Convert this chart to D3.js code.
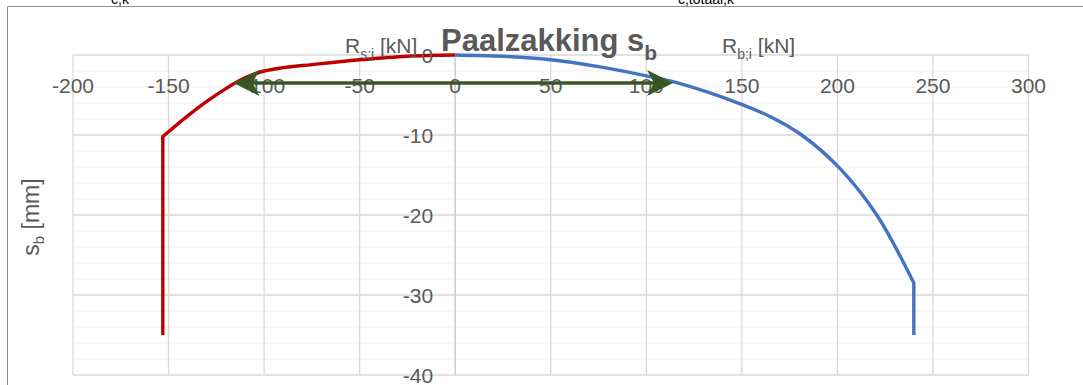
<!DOCTYPE html>
<html>
<head>
<meta charset="utf-8">
<script src="https://cdn.jsdelivr.net/npm/d3@7"></script>
<style>
  html, body { margin: 0; padding: 0; background: #ffffff; overflow: hidden; }
  svg { display: block; }
  text { font-family: "Liberation Sans", Arial, sans-serif; }
</style>
</head>
<body>
<svg id="chart" width="1083" height="385"></svg>
<script>
// Axis ticks
const xTicks = [-200, -150, -100, -50, 0, 50, 100, 150, 200, 250, 300];
const yTicks = [0, -10, -20, -30, -40];
const yMinorStep = 2;

// Shaft resistance R_s;i [kN] against settlement s_b [mm]
const shaftR = [0, -25, -50, -75, -92, -100, -106, -112.6, -120, -130, -140, -153, -153];
const shaftS = [0, -0.15, -0.6, -1.2, -1.65, -2.0, -2.45, -3.15, -4.2, -5.8, -7.6, -10.2, -35];

// Base resistance R_b;i [kN] against settlement s_b [mm]
const baseR = [0, 25, 50, 75, 100, 115.9, 149.2, 166.5, 181.3, 201.4, 220.6, 240, 240];
const baseS = [0, -0.16, -0.6, -1.45, -2.6, -3.45, -6.1, -7.9, -10, -14.2, -20, -28.5, -35];

// Double arrow spanning both resistances
const arrowS = -3.5;
const arrowFrom = -116;
const arrowTo = 114;

const svg = d3.select("#chart");
const W = 1083, H = 385;

const x = d3.scaleLinear().domain([-200, 300]).range([73, 1028.5]);
const y = d3.scaleLinear().domain([-40, 0]).range([375, 55]);

const grey = "#595959";

// chart frame
svg.append("line").attr("x1", 7.5).attr("y1", 6.5).attr("x2", W).attr("y2", 6.5)
  .attr("stroke", "#8c8c8c").attr("stroke-width", 1);
svg.append("line").attr("x1", 7.5).attr("y1", 6.5).attr("x2", 7.5).attr("y2", H)
  .attr("stroke", "#8c8c8c").attr("stroke-width", 1);

// partially visible cell text above the chart
svg.append("text").attr("x", 120).attr("y", 3.5).attr("text-anchor", "middle")
  .attr("font-size", 14).attr("fill", "#000").text("c,k");
svg.append("text").attr("x", 706).attr("y", 3.5).attr("text-anchor", "middle")
  .attr("font-size", 14).attr("fill", "#000").text("c,totaal,k");

// minor horizontal gridlines
const minorY = d3.range(0, -40 - 0.001, -yMinorStep).filter(v => v % 10 !== 0);
svg.append("g").selectAll("line").data(minorY).join("line")
  .attr("x1", x(-200)).attr("x2", x(300))
  .attr("y1", d => y(d)).attr("y2", d => y(d))
  .attr("stroke", "#f0f0f0").attr("stroke-width", 1.2);

// major gridlines
svg.append("g").selectAll("line").data(yTicks).join("line")
  .attr("x1", x(-200)).attr("x2", x(300))
  .attr("y1", d => y(d)).attr("y2", d => y(d))
  .attr("stroke", "#d9d9d9").attr("stroke-width", 1.3);
svg.append("g").selectAll("line").data(xTicks).join("line")
  .attr("x1", d => x(d)).attr("x2", d => x(d))
  .attr("y1", y(0)).attr("y2", y(-40))
  .attr("stroke", "#d9d9d9").attr("stroke-width", 1.3);

// vertical axis at R = 0
svg.append("line").attr("x1", x(0)).attr("x2", x(0)).attr("y1", y(0)).attr("y2", y(-40))
  .attr("stroke", "#cfcfcf").attr("stroke-width", 1.4);

// curves: smooth part up to the kink, then a straight vertical tail
function drawSeries(rs, ss, color) {
  const pts = rs.map((r, i) => [x(r), y(ss[i])]);
  const curvePts = pts.slice(0, pts.length - 1);
  const tail = pts[pts.length - 1];
  const gen = d3.line().curve(d3.curveCatmullRom.alpha(0.5));
  const d = gen(curvePts) + "L" + tail[0] + "," + tail[1];
  svg.append("path").attr("d", d).attr("fill", "none")
    .attr("stroke", color).attr("stroke-width", 3.4)
    .attr("stroke-linejoin", "miter");
}
drawSeries(shaftR, shaftS, "#c00000");
drawSeries(baseR, baseS, "#4472c4");

// tick labels on the horizontal axis
svg.append("g").selectAll("text").data(xTicks).join("text")
  .attr("x", d => x(d)).attr("y", 93)
  .attr("text-anchor", "middle").attr("font-size", 21).attr("fill", grey)
  .text(d => d);

// tick labels on the vertical axis
svg.append("g").selectAll("text").data(yTicks).join("text")
  .attr("x", x(0) - 22).attr("y", d => y(d) + 7.5)
  .attr("text-anchor", "end").attr("font-size", 21).attr("fill", grey)
  .text(d => d);

// double arrow
(function () {
  const ay = y(arrowS);
  const xl = x(arrowFrom), xr = x(arrowTo);
  const len = 26, half = 13, notch = 7;
  const green = "#375623";
  svg.append("line").attr("x1", xl + notch + 2).attr("x2", xr - notch - 2)
    .attr("y1", ay).attr("y2", ay).attr("stroke", green).attr("stroke-width", 3.5);
  const head = (tipX, dir) => {
    const p = d3.path();
    p.moveTo(tipX, ay);
    p.lineTo(tipX - dir * len, ay - half);
    p.lineTo(tipX - dir * (len - notch), ay);
    p.lineTo(tipX - dir * len, ay + half);
    p.closePath();
    return p.toString();
  };
  svg.append("path").attr("d", head(xl, -1)).attr("fill", green);
  svg.append("path").attr("d", head(xr, 1)).attr("fill", green);
})();

// axis titles
const tS = svg.append("text").attr("x", 345).attr("y", 53)
  .attr("font-size", 21).attr("fill", grey);
tS.append("tspan").text("R");
tS.append("tspan").attr("font-size", 14).attr("dy", 6).text("s;i");
tS.append("tspan").attr("dy", -6).text(" [kN]");

const tB = svg.append("text").attr("x", 722).attr("y", 53)
  .attr("font-size", 21).attr("fill", grey);
tB.append("tspan").text("R");
tB.append("tspan").attr("font-size", 14).attr("dy", 6).text("b;i");
tB.append("tspan").attr("dy", -6).text(" [kN]");

const tY = svg.append("text")
  .attr("transform", "translate(39," + 217 + ") rotate(-90)")
  .attr("text-anchor", "middle").attr("font-size", 23).attr("fill", grey);
tY.append("tspan").text("s");
tY.append("tspan").attr("font-size", 15).attr("dy", 5).text("b");
tY.append("tspan").attr("dy", -5).text(" [mm]");

// chart title
const title = svg.append("text").attr("x", 441).attr("y", 51)
  .attr("font-size", 31).attr("font-weight", "bold").attr("fill", grey);
title.append("tspan").text("Paalzakking s");
title.append("tspan").attr("font-size", 21).attr("dy", 9).text("b");
</script>
</body>
</html>
